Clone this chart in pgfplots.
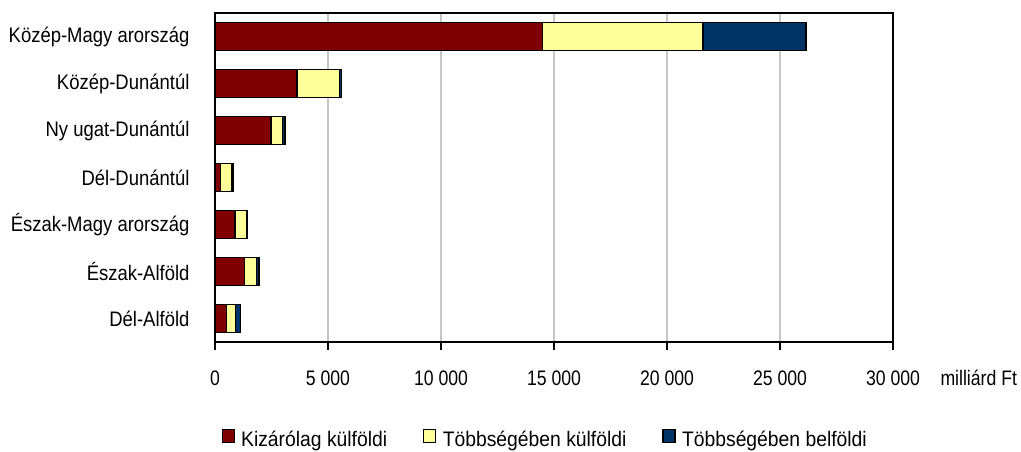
\documentclass[border=0pt]{standalone}
\usepackage{fontspec}
\setmainfont{Liberation Sans}[FakeStretch=0.84]
\newfontfamily\catfont{Liberation Sans}[FakeStretch=0.88]
\newfontfamily\legfont{Liberation Sans}[FakeStretch=0.92]
\usepackage{pgfplots}
\pgfplotsset{compat=1.18}
\definecolor{cRed}{HTML}{800000}
\definecolor{cYel}{HTML}{FFFF99}
\definecolor{cBlu}{HTML}{003366}
\begin{document}
\begin{tikzpicture}
\useasboundingbox (0,0) rectangle (1021pt,452pt);
\begin{axis}[
  at={(215pt,110pt)}, anchor=south west,
  width=678pt, height=329pt, scale only axis,
  xbar stacked, bar width=0.6,
  xmin=0, xmax=30000, ymin=-0.5, ymax=6.5, y dir=reverse,
  scaled x ticks=false,
  ytick={0,...,6},
  yticklabels={Közép-Magy arország,Közép-Dunántúl,Ny ugat-Dunántúl,Dél-Dunántúl,Észak-Magy arország,Észak-Alföld,Dél-Alföld},
  xtick={0,5000,10000,15000,20000,25000,30000},
  xticklabels={0,5 000,10 000,15 000,20 000,25 000,30 000},
  ytick style={draw=none},
  xtick pos=bottom, tick align=outside,
  major tick length=8pt,
  xtick style={line width=1.2pt, black},
  xmajorgrids, grid style={draw=gray!45, line width=1.3pt},
  axis line style={line width=1.3pt},
  xticklabel style={font=\fontsize{21}{24}\selectfont, anchor=base, yshift=-35pt},
  yticklabel style={font=\catfont\fontsize{21}{24}\selectfont, xshift=-14pt},
  xlabel={milliárd Ft},
  xlabel style={at={(rel axis cs:1,0)}, anchor=base west, xshift=44pt, yshift=-43pt, font=\fontsize{21}{24}\selectfont},
  legend style={at={(rel axis cs:0.487,-0.295)}, anchor=center, legend columns=3, draw=none,
    font=\legfont\fontsize{21}{24}\selectfont,
    /tikz/every even column/.append style={column sep=34pt}},
  legend image code/.code={\draw[#1, line width=1.2pt] (0pt,-3pt) rectangle (12pt,10pt); \path[draw=none,fill=none] (0pt,0pt) rectangle (17pt,0.1pt);},
  every axis plot/.append style={draw=black, line width=1.4pt},
]
\addplot[fill=cRed] coordinates {(14500,0) (3630,1) (2470,2) (250,3) (890,4) (1310,5) (500,6)};
\addplot[fill=cYel] coordinates {(7100,0) (1870,1) (530,2) (480,3) (500,4) (530,5) (420,6)};
\addplot[fill=cBlu] coordinates {(4550,0) (100,1) (90,2) (60,3) (40,4) (100,5) (200,6)};
\legend{Kizárólag külföldi,Többségében külföldi,Többségében belföldi}
\end{axis}
\end{tikzpicture}
\end{document}
